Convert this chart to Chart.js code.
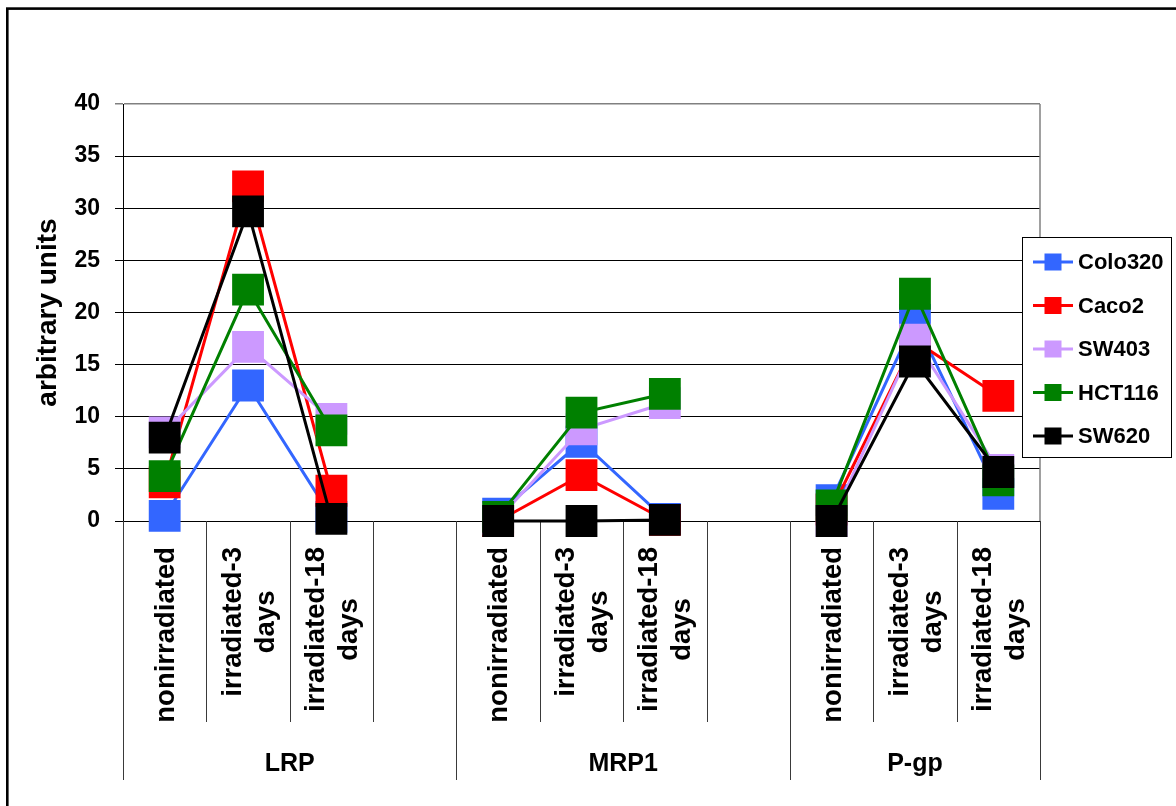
<!DOCTYPE html>
<html>
<head>
<meta charset="utf-8">
<script src="https://cdn.jsdelivr.net/npm/chart.js@4/dist/chart.umd.min.js"></script>
<style>
  html, body { margin: 0; padding: 0; background: #fff; overflow: hidden; }
  #wrap { width: 1176px; height: 806px; }
</style>
</head>
<body>
<div id="wrap"><canvas id="c" width="1176" height="806"></canvas></div>
<script>
// Conditions per transporter; the fourth slot of LRP and MRP1 is a spacer.
const categories = [
  'nonirradiated', ['irradiated-3', 'days'], ['irradiated-18', 'days'], '',
  'nonirradiated', ['irradiated-3', 'days'], ['irradiated-18', 'days'], '',
  'nonirradiated', ['irradiated-3', 'days'], ['irradiated-18', 'days']
];
const groups = ['LRP', 'MRP1', 'P-gp'];
const groupSizes = [4, 4, 3];

const seriesNames = ['Colo320', 'Caco2', 'SW403', 'HCT116', 'SW620'];
const seriesColors = ['#3366FF', '#FF0000', '#CC99FF', '#008000', '#000000'];

const colo320 = [0.5, 13.0, 0.4, null, 0.7, 7.6, 0.2, null, 2.0, 19.3, 2.6];
const caco2   = [3.7, 32.1, 2.9, null, 0.0, 4.4, 0.1, null, 1.1, 17.3, 12.0];
const sw403   = [8.5, 16.7, 9.8, null, 0.2, 8.8, 11.3, null, 0.0, 17.4, 4.9];
const hct116  = [4.3, 22.2, 8.7, null, 0.4, 10.4, 12.2, null, 1.5, 21.8, 3.9];
const sw620   = [8.0, 29.7, 0.2, null, 0.0, 0.0, 0.1, null, 0.0, 15.3, 4.7];
const seriesValues = [colo320, caco2, sw403, hct116, sw620];

const yMin = 0, yMax = 40, yStep = 5;

const FONT = "'Liberation Sans', Arial, Helvetica, sans-serif";

// Later series are painted on top of earlier ones.
const datasets = seriesNames.map((name, i) => ({
  label: name,
  data: seriesValues[i],
  borderColor: seriesColors[i],
  backgroundColor: seriesColors[i],
  borderWidth: 3,
  pointStyle: 'rect',
  pointRadius: 22.5,
  pointHoverRadius: 22.5,
  pointBorderWidth: 0,
  pointBackgroundColor: seriesColors[i],
  spanGaps: false,
  tension: 0,
  clip: false,
  order: seriesNames.length - i
}));

const decorations = {
  id: 'decorations',
  beforeDraw(chart) {
    const { ctx, width, height } = chart;
    ctx.save();
    ctx.fillStyle = '#fff';
    ctx.fillRect(0, 0, width, height);
    ctx.restore();
  },
  beforeDatasetsDraw(chart) {
    const { ctx, chartArea } = chart;
    const x = chart.scales.x;
    const slot = (chartArea.right - chartArea.left) / categories.length;
    ctx.save();
    // plot-area right edge
    ctx.strokeStyle = '#808080';
    ctx.lineWidth = 1.5;
    ctx.beginPath();
    ctx.moveTo(chartArea.right, chartArea.top);
    ctx.lineTo(chartArea.right, chartArea.bottom);
    ctx.stroke();

    // separators between categories and between groups
    const groupEdges = [0];
    groupSizes.reduce((acc, n) => { groupEdges.push(acc + n); return acc + n; }, 0);
    ctx.strokeStyle = '#3a3a3a';
    ctx.lineWidth = 1;
    for (let k = 0; k <= categories.length; k++) {
      const px = Math.round(x.getPixelForValue(0) - slot / 2 + k * slot) + 0.5;
      const isGroup = groupEdges.includes(k);
      ctx.beginPath();
      ctx.moveTo(px, chartArea.bottom);
      ctx.lineTo(px, isGroup ? 780 : 722);
      ctx.stroke();
    }

    // category labels, rotated, anchored just under the axis
    ctx.fillStyle = '#000';
    ctx.font = 'bold 27.5px ' + FONT;
    categories.forEach((lab, i) => {
      const lines = Array.isArray(lab) ? lab : [lab];
      if (!lines[0]) return;
      const cx = x.getPixelForValue(i);
      const maxW = Math.max(...lines.map(l => ctx.measureText(l).width));
      lines.forEach((line, j) => {
        const lx = cx + (j - (lines.length - 1) / 2) * 33 + 1.5;
        ctx.save();
        ctx.translate(lx, 547 + maxW / 2);
        ctx.rotate(-Math.PI / 2);
        ctx.textAlign = 'center';
        ctx.textBaseline = 'middle';
        ctx.fillText(line, 0, 0);
        ctx.restore();
      });
    });

    // group labels
    ctx.font = 'bold 25px ' + FONT;
    ctx.textAlign = 'center';
    ctx.textBaseline = 'middle';
    let start = 0;
    groups.forEach((g, gi) => {
      const end = start + groupSizes[gi] - 1;
      const gx = (x.getPixelForValue(start) + x.getPixelForValue(end)) / 2;
      ctx.fillText(g, gx, 764);
      start += groupSizes[gi];
    });
    ctx.restore();
  },
  afterDraw(chart) {
    const { ctx } = chart;
    ctx.save();
    // outer frame
    ctx.strokeStyle = '#000';
    ctx.lineWidth = 2.6;
    ctx.strokeRect(7.3, 8.6, 1300, 1000);

    // legend box
    const bx = 1022.5, by = 237.5, bw = 149, bh = 220;
    ctx.fillStyle = '#fff';
    ctx.fillRect(bx, by, bw, bh);
    ctx.strokeStyle = '#000';
    ctx.lineWidth = 1;
    ctx.strokeRect(bx, by, bw, bh);
    ctx.font = 'bold 22px ' + FONT;
    ctx.textAlign = 'left';
    ctx.textBaseline = 'middle';
    chart.data.datasets.forEach((ds, i) => {
      const cy = 262 + i * 43.5;
      ctx.strokeStyle = ds.borderColor;
      ctx.lineWidth = 3;
      ctx.beginPath();
      ctx.moveTo(1033, cy);
      ctx.lineTo(1073, cy);
      ctx.stroke();
      ctx.fillStyle = ds.borderColor;
      ctx.fillRect(1053 - 8.5, cy - 8.5, 17, 17);
      ctx.fillStyle = '#000';
      ctx.fillText(ds.label, 1078, cy + 1);
    });
    ctx.restore();
  }
};

new Chart(document.getElementById('c'), {
  type: 'line',
  data: { labels: categories, datasets },
  options: {
    responsive: false,
    devicePixelRatio: 1,
    animation: false,
    events: [],
    layout: { padding: { left: 0, top: 104, right: 136, bottom: 0 } },
    plugins: {
      legend: { display: false },
      tooltip: { enabled: false },
      title: { display: false }
    },
    scales: {
      x: {
        type: 'category',
        offset: true,
        grid: { display: false },
        border: { display: true, color: '#000', width: 1 },
        ticks: { display: false },
        afterFit: (s) => { s.height = 285; }
      },
      y: {
        min: yMin,
        max: yMax,
        ticks: {
          stepSize: yStep,
          color: '#000',
          padding: 15,
          font: { family: FONT, size: 23, weight: 'bold' }
        },
        grid: {
          color: (c) => (c.tick && c.tick.value === yMax ? '#808080' : '#000'),
          lineWidth: (c) => (c.tick && c.tick.value === yMax ? 1.5 : 1),
          tickLength: 8,
          drawTicks: true
        },
        border: { display: true, color: '#000', width: 1 },
        title: {
          display: true,
          text: 'arbitrary units',
          color: '#000',
          font: { family: FONT, size: 28, weight: 'bold' },
          padding: { top: 31, bottom: 0 }
        },
        afterFit: (s) => { s.width = 123; }
      }
    }
  },
  plugins: [decorations]
});
</script>
</body>
</html>
